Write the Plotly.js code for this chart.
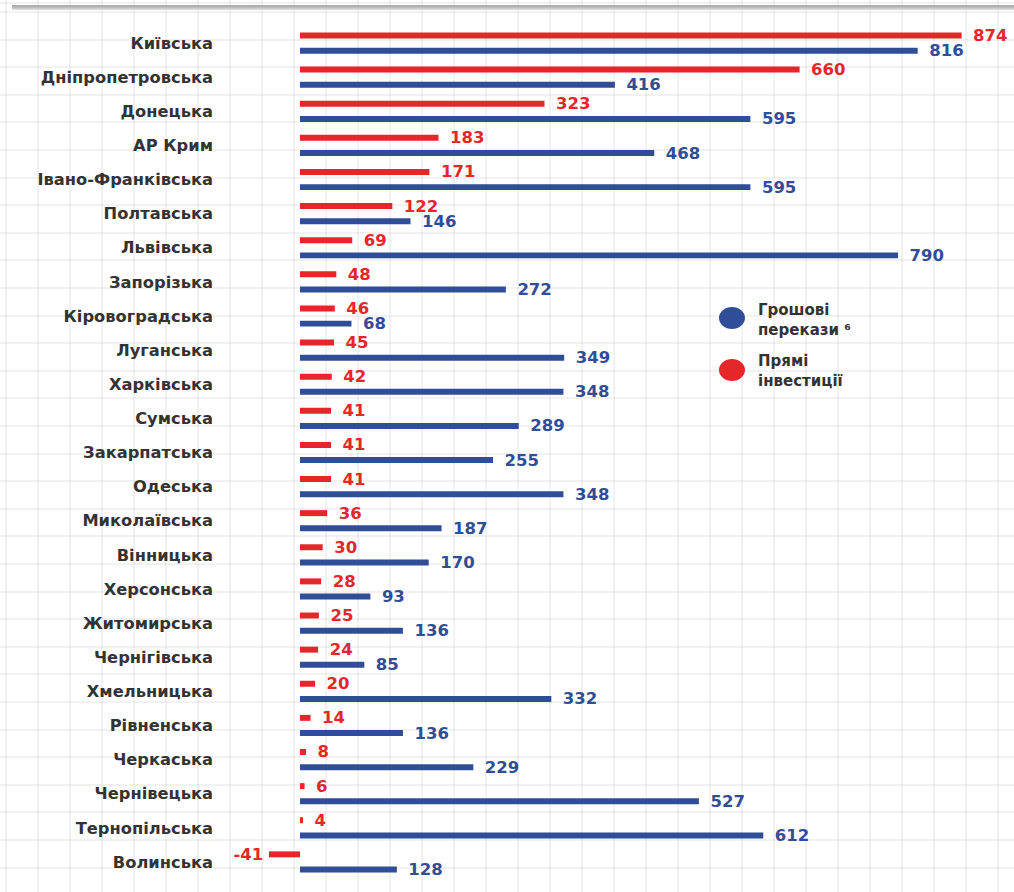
<!DOCTYPE html>
<html>
<head>
<meta charset="utf-8">
<script src="https://cdn.plot.ly/plotly-3.0.1.min.js"></script>
<style>
  html, body { margin: 0; padding: 0; }
  body {
    width: 1014px; height: 892px; overflow: hidden; position: relative;
    background-color: #ffffff;
    background-image:
      repeating-linear-gradient(90deg, rgba(0,0,0,0.05) 0px, rgba(0,0,0,0.05) 2px, transparent 2px, transparent 32px),
      repeating-linear-gradient(180deg, rgba(0,0,0,0.05) 0px, rgba(0,0,0,0.05) 2px, transparent 2px, transparent 27.6px);
    background-position: 5px 0px, 0px 11px;
  }
  #topbar {
    position: absolute; left: 12px; top: 5px; width: 1002px; height: 5px;
    background: linear-gradient(180deg, #a4a7a4 0%, #c0c3c0 60%, #e2e4e2 100%);
  }
  #chart { position: absolute; left: 0; top: 0; width: 1014px; height: 892px; }
</style>
</head>
<body>
<div id="topbar"></div>
<div id="chart"></div>
<script>
const regions = ["Київська","Дніпропетровська","Донецька","АР Крим","Івано-Франківська","Полтавська","Львівська","Запорізька","Кіровоградська","Луганська","Харківська","Сумська","Закарпатська","Одеська","Миколаївська","Вінницька","Херсонська","Житомирська","Чернігівська","Хмельницька","Рівненська","Черкаська","Чернівецька","Тернопільська","Волинська"];
const directInvestment = [874,660,323,183,171,122,69,48,46,45,42,41,41,41,36,30,28,25,24,20,14,8,6,4,-41];
const remittances = [816,416,595,468,595,146,790,272,68,349,348,289,255,348,187,170,93,136,85,332,136,229,527,612,128];
const legendLabels = ["Грошові<br>перекази ⁶", "Прямі<br>інвестиції"];

const RED = "#e5262b";
const BLUE = "#2f4e97";
const NB = "\u00a0";
const fmt = v => v < 0 ? (v + NB) : (NB + NB + v);

const barCommon = {
  type: "bar", orientation: "h", width: 0.175,
  textposition: "outside", constraintext: "none", cliponaxis: false,
  showlegend: false, hoverinfo: "x+y"
};

const traces = [
  Object.assign({}, barCommon, {
    name: "Прямі інвестиції", y: regions, x: directInvestment, offset: -0.31,
    marker: {color: RED}, text: directInvestment.map(fmt),
    textfont: {family: "DejaVu Sans", size: 16.5, color: RED, weight: "bold"}
  }),
  Object.assign({}, barCommon, {
    name: "Грошові перекази", y: regions, x: remittances, offset: 0.135,
    marker: {color: BLUE}, text: remittances.map(fmt),
    textfont: {family: "DejaVu Sans", size: 16.5, color: BLUE, weight: "bold"}
  })
];

const legendColors = [BLUE, RED];
const legendDotY = [0.6577, 0.5967];
const legendTextY = [0.6553, 0.595];

const shapes = legendColors.map((c, i) => ({
  type: "circle", xref: "paper", yref: "paper",
  xsizemode: "pixel", ysizemode: "pixel",
  xanchor: 0.6457, yanchor: legendDotY[i],
  x0: -13, x1: 13, y0: -11, y1: 11,
  fillcolor: c, line: {width: 0}
}));

const annotations = legendLabels.map((t, i) => ({
  xref: "paper", yref: "paper", x: 0.676, y: legendTextY[i],
  xanchor: "left", yanchor: "middle", align: "left", showarrow: false,
  text: t, font: {family: "DejaVu Sans", size: 15, color: "#333333", weight: "bold"}
}));

const layout = {
  width: 1014, height: 892,
  margin: {l: 218, r: 0, t: 26, b: 13, pad: 0},
  paper_bgcolor: "rgba(0,0,0,0)", plot_bgcolor: "rgba(0,0,0,0)",
  barmode: "overlay",
  showlegend: false,
  xaxis: {range: [-108.3, 943.2], showgrid: false, zeroline: false, showticklabels: false, showline: false, fixedrange: true},
  yaxis: {type: "category", autorange: "reversed", showgrid: false, zeroline: false, showline: false,
          ticks: "", ticklabelstandoff: 4,
          tickfont: {family: "DejaVu Sans", size: 16.3, color: "#333333", weight: "bold"}},
  shapes: shapes,
  annotations: annotations
};

Plotly.newPlot("chart", traces, layout, {displayModeBar: false, staticPlot: true});
</script>
</body>
</html>
